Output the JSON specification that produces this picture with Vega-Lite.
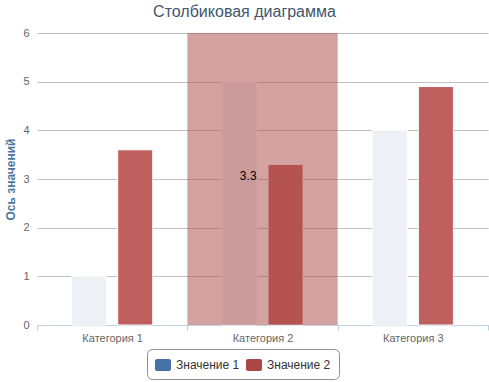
{
  "$schema": "https://vega.github.io/schema/vega-lite/v6.json",
  "width": 451,
  "height": 292,
  "autosize": {"type": "none"},
  "padding": {"left": 37, "top": 33, "right": 1, "bottom": 57},
  "background": "white",
  "config": {
    "view": {"stroke": null},
    "font": "Liberation Sans"
  },
  "title": {
    "text": "Столбиковая диаграмма",
    "fontSize": 16,
    "fontWeight": "normal",
    "color": "#3e576f",
    "font": "Liberation Sans",
    "anchor": "middle",
    "dx": -18,
    "offset": 7
  },
  "data": {
    "values": [
      {"cat": "Категория 1", "series": "Значение 1", "value": 1},
      {"cat": "Категория 1", "series": "Значение 2", "value": 3.6},
      {"cat": "Категория 2", "series": "Значение 1", "value": 5},
      {"cat": "Категория 2", "series": "Значение 2", "value": 3.3},
      {"cat": "Категория 3", "series": "Значение 1", "value": 4},
      {"cat": "Категория 3", "series": "Значение 2", "value": 4.9}
    ]
  },
  "encoding": {
    "x": {
      "field": "cat",
      "type": "nominal",
      "scale": {"paddingInner": 0, "paddingOuter": 0},
      "axis": {
        "title": null,
        "labelAngle": 0,
        "labelColor": "#666666",
        "labelFontSize": 11,
        "labelFont": "Liberation Sans",
        "labelPadding": 2,
        "domainColor": "#c0d0e0",
        "tickColor": "#c0d0e0",
        "tickSize": 5,
        "tickBand": "extent",
        "grid": false
      }
    }
  },
  "layer": [
    {
      "mark": {"type": "bar", "stroke": "white", "strokeWidth": 1},
      "encoding": {
        "xOffset": {
          "field": "series",
          "type": "nominal",
          "scale": {"paddingInner": 0.24, "paddingOuter": 0.75}
        },
        "y": {
          "field": "value",
          "type": "quantitative",
          "scale": {"domain": [0, 6], "nice": false},
          "axis": {
            "title": "Ось значений",
            "titleColor": "#4d759e",
            "titleFontSize": 12,
            "titleFont": "Liberation Sans",
            "titleFontWeight": "bold",
            "titlePadding": 5,
            "tickCount": 6,
            "labelColor": "#666666",
            "labelFontSize": 11,
            "labelFont": "Liberation Sans",
            "labelPadding": 8,
            "ticks": false,
            "domain": false,
            "grid": true,
            "gridColor": "#c0c0c0",
            "gridOpacity": 1
          }
        },
        "color": {
          "field": "series",
          "type": "nominal",
          "scale": {"domain": ["Значение 1", "Значение 2"], "range": ["#edf0f4", "#c0605e"]},
          "legend": null
        }
      }
    },
    {
      "transform": [{"filter": "datum.cat === 'Категория 2' && datum.series === 'Значение 2'"}],
      "mark": {"type": "rect", "color": "#aa4643", "opacity": 0.5},
      "encoding": {}
    },
    {
      "transform": [{"filter": "datum.cat === 'Категория 2' && datum.series === 'Значение 2'"}],
      "mark": {"type": "text", "align": "right", "baseline": "middle", "dx": -29, "dy": 12, "fontSize": 12, "font": "Liberation Sans", "color": "#000000"},
      "encoding": {
        "xOffset": {"field": "series", "type": "nominal"},
        "y": {"field": "value", "type": "quantitative"},
        "text": {"field": "value", "type": "quantitative"}
      }
    },
    {
      "transform": [{"filter": "false"}],
      "mark": {"type": "bar"},
      "encoding": {
        "color": {
          "field": "series",
          "type": "nominal",
          "scale": {"domain": ["Значение 1", "Значение 2"], "range": ["#4572a7", "#aa4643"]},
          "legend": {
            "title": null,
            "orient": "none",
            "legendX": 110,
            "legendY": 316,
            "direction": "horizontal",
            "padding": 8,
            "strokeColor": "#909090",
            "cornerRadius": 5,
            "fillColor": "white",
            "symbolType": "M-0.75,-0.75H0.75Q1,-0.75 1,-0.5V0.5Q1,0.75 0.75,0.75H-0.75Q-1,0.75 -1,0.5V-0.5Q-1,-0.75 -0.75,-0.75Z",
            "symbolSize": 256,
            "symbolStrokeWidth": 0,
            "symbolOpacity": 1,
            "labelFontSize": 12,
            "labelFont": "Liberation Sans",
            "labelColor": "#333333",
            "labelOffset": 5,
            "columnPadding": 6
          }
        }
      }
    }
  ],
  "resolve": {"scale": {"color": "independent"}}
}
